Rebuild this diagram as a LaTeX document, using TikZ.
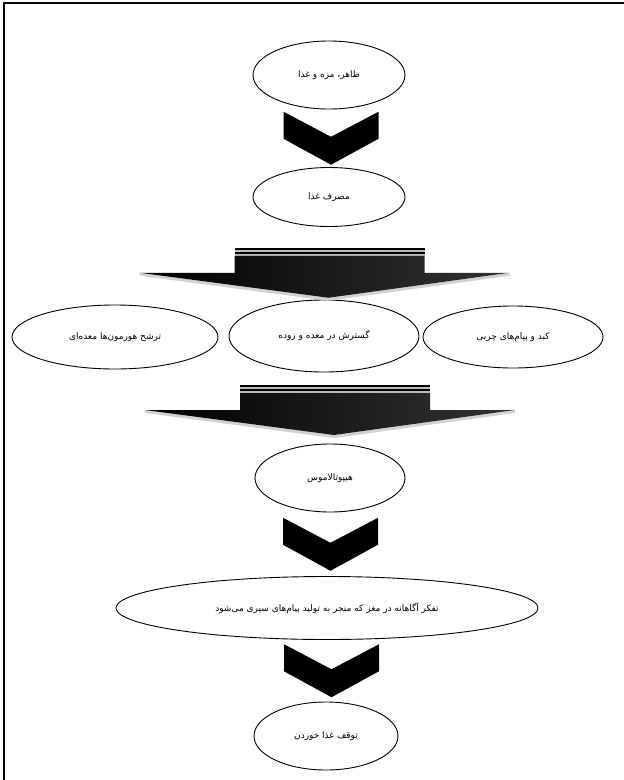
\documentclass[tikz,border=0pt]{standalone}
\usepackage{fontspec}
\newfontfamily\arabicfont[Script=Arabic]{DejaVu Sans}
\TeXXeTstate=1
\usetikzlibrary{shapes.geometric,calc}
\tikzset{
  oval/.style={ellipse, draw=black, line width=0.9pt, inner sep=0pt,
    font=\arabicfont\fontsize{9}{11}\selectfont},
  chevron/.pic={
    \fill[black] (-47.5,0) -- (0,25) -- (47.5,0) -- (47.5,27) -- (0,53) -- (-47.5,27) -- cycle;
  },
  bigarrow/.pic={
    \fill[gray!55] (-94,0) rectangle (96,8);
    \fill[black] (-94,0) rectangle (96,1.8);
    \fill[black] (-94,4.2) rectangle (96,6);
    \draw[gray!35, line width=3pt, line join=round] (-189,26.5) -- (0,51.5) -- (181,26.5);
    \shade[left color=black, middle color=black, right color=black!80]
      (-189,25) -- (-94,25) -- (-94,8) -- (96,8) -- (96,25) -- (181,25) -- (0,50) -- cycle;
  },
}
\begin{document}
\begin{tikzpicture}[x=1pt,y=-1pt]
\useasboundingbox (0,0) rectangle (624,780);
\fill[white] (0,0) rectangle (624,780);
% frame
\draw[line width=2.2pt] (3.7,780) -- (3.7,2.9) -- (624,2.9);

% nodes
\node[oval, minimum width=152pt, minimum height=68pt] (e1) at (329,75) {\beginR ظاهر، مزه و غذا\endR};
\node[oval, minimum width=152pt, minimum height=59pt] (e2) at (329,197) {\beginR مصرف غذا\endR};
\node[oval, minimum width=206pt, minimum height=64pt] (e3l) at (115,337) {\beginR ترشح هورمون‌ها معده‌ای\endR};
\node[oval, minimum width=190pt, minimum height=72pt] (e3m) at (324,336) {\beginR گسترش در معده و روده\endR};
\node[oval, minimum width=180pt, minimum height=62pt] (e3r) at (513,337) {\beginR کبد و پیام‌های چربی\endR};
\node[oval, minimum width=150pt, minimum height=68pt] (e4) at (330,478) {\beginR هیپوتالاموس\endR};
\node[oval, minimum width=422pt, minimum height=63pt] (e5) at (327,608) {\beginR تفکر آگاهانه در مغز که منجر به تولید پیام‌های سیری می‌شود\endR};
\node[oval, minimum width=144pt, minimum height=68pt] (e6) at (326,736) {\beginR توقف غذا خوردن\endR};

% block arrows placed between named nodes
\path (e1.south) -- (e2.north) coordinate[pos=0.5] (m1);
\pic at ($(m1)+(2,-26.5)$) {chevron};
\path (e2.south) -- (e3m.north) coordinate[pos=0.5] (m2);
\pic at ($(m2)+(2,-15.5)$) {bigarrow};
\path (e3m.south) -- (e4.north) coordinate[pos=0.5] (m3);
\pic at ($(m3)+(7,-23)$) {bigarrow};
\path (e4.south) -- (e5.north) coordinate[pos=0.5] (m4);
\pic at ($(m4)+(2,-26.5)$) {chevron};
\path (e5.south) -- (e6.north) coordinate[pos=0.5] (m5);
\pic at ($(m5)+(5,-26.5)$) {chevron};
\end{tikzpicture}
\end{document}
